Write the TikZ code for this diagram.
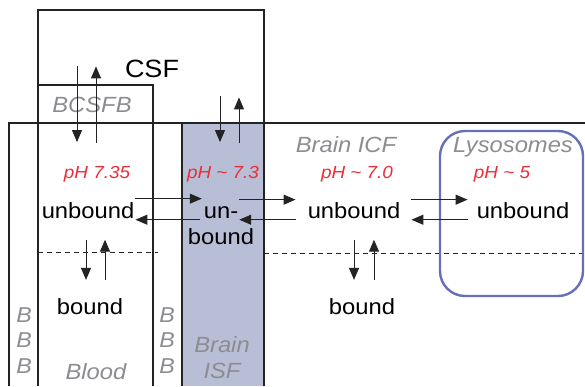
\documentclass[tikz,border=0pt]{standalone}
\usepackage{fontspec}
\setmainfont{Liberation Sans}[FakeStretch=1.08]
\usetikzlibrary{arrows.meta}
\definecolor{linedark}{RGB}{35,35,35}
\definecolor{compgray}{RGB}{140,140,145}
\definecolor{phred}{RGB}{235,45,55}
\definecolor{isffill}{RGB}{185,190,215}
\definecolor{lysoblue}{RGB}{100,112,185}
\tikzstyle{wall} = [line width=1.1pt, draw=linedark]
\tikzstyle{divider} = [line width=1pt, draw=linedark, dash pattern=on 5pt off 4pt]
\tikzstyle{lysobox} = [line width=2.4pt, draw=lysoblue, rounded corners=25pt]
\tikzstyle{title} = [inner sep=0pt, anchor=base, text=black, font=\fontsize{25}{30}\selectfont]
\tikzstyle{compart} = [inner sep=0pt, anchor=base, text=compgray, font=\fontsize{22}{26}\selectfont\itshape]
\tikzstyle{phval} = [inner sep=0pt, anchor=base, text=phred, font=\fontsize{17.5}{21}\selectfont\itshape]
\tikzstyle{species} = [inner sep=0pt, anchor=base, text=black, font=\fontsize{22}{26}\selectfont]
\tikzstyle{bbb} = [inner sep=0pt, anchor=north, align=center, text=compgray, font=\fontsize{21.5}{25.3}\selectfont\itshape]
\tikzstyle{arrow} = [line width=1pt, -{Triangle[length=12pt,width=10pt]}, draw=linedark]

\begin{document}
\begin{tikzpicture}[x=1pt,y=-1pt]
		\useasboundingbox (0,0) rectangle (585,386);
		% compartments
		\fill[isffill] (182,123) rectangle (264,386);
		\draw[wall] (9,386) |- (585,123);
		\draw[wall] (38,386) |- (264,10) -- (264,386);
		\draw[wall] (38,85) -| (153,386);
		\draw[wall] (182,123) -- (182,386);
		\draw[divider] (38,252) -- (158,252);
		\draw[divider] (264,253) -- (585,253);
		\draw[lysobox] (440,131) rectangle (583,296);
		% compartment names
		\node (csf) [title] at (152,77) {CSF};
		\node (bcsfb) [compart] at (92,112) {BCSFB};
		\node (icf) [compart] at (346,152) {Brain ICF};
		\node (lyso) [compart] at (513,152) {Lysosomes};
		\node (blood) [compart] at (96,379) {Blood};
		\node (isf) [compart, anchor=north, align=center] at (222,336) {Brain\\ISF};
		\node (bbbleft) [bbb] at (24,307.5) {B\\B\\B};
		\node (bbbright) [bbb] at (167,307.5) {B\\B\\B};
		% pH values
		\node (ph1) [phval] at (97,178) {pH 7.35};
		\node (ph2) [phval] at (223,178) {pH \textasciitilde{} 7.3};
		\node (ph3) [phval] at (357,178) {pH \textasciitilde{} 7.0};
		\node (ph4) [phval] at (502,178) {pH \textasciitilde{} 5};
		% drug species
		\node (ub1) [species] at (88,218.3) {unbound};
		\node (ub2) [species, anchor=north, align=center] at (221,206) {un-\\bound};
		\node (ub3) [species] at (354,218.3) {unbound};
		\node (ub4) [species] at (523,218.3) {unbound};
		\node (b1) [species] at (90,314) {bound};
		\node (b3) [species] at (362,314) {bound};
		% exchange with CSF
		\draw [arrow] ([xshift=-20pt,yshift=2pt]ph1.north |- csf.west) -- ([xshift=-20pt,yshift=23.5pt]ph1.north);
		\draw [arrow] ([xshift=-1pt,yshift=23pt]ph1.north) -- ([xshift=-1pt,yshift=2pt]ph1.north |- csf.west);
		\draw [arrow] ([xshift=-3pt]ph2.north |- bcsfb.north) -- ([xshift=-3pt,yshift=23.5pt]ph2.north);
		\draw [arrow] ([xshift=16pt,yshift=23pt]ph2.north) -- ([xshift=16pt,yshift=-1pt]ph2.north |- bcsfb.north);
		% blood - ISF - ICF - lysosomes
		\draw [arrow] ([xshift=1pt,yshift=3.5pt]ub1.north east) -- ([xshift=14pt,yshift=3.5pt]ub1.north east -| ub2.west);
		\draw [arrow] ([xshift=12pt,yshift=-1pt]ub1.south east -| ub2.west) -- ([xshift=1pt,yshift=-1pt]ub1.south east);
		\draw [arrow] ([xshift=-15pt,yshift=2.5pt]ub2.east |- ub3.north) -- ([xshift=-12pt,yshift=2.5pt]ub3.north west);
		\draw [arrow] ([xshift=-12pt,yshift=-1pt]ub3.south west) -- ([xshift=-15pt,yshift=-1pt]ub2.east |- ub3.south);
		\draw [arrow] ([xshift=11pt,yshift=2.5pt]ub3.north east) -- ([xshift=-9pt,yshift=2.5pt]ub4.west |- ub3.north);
		\draw [arrow] ([xshift=-9pt,yshift=-1pt]ub4.west |- ub3.south) -- ([xshift=11pt,yshift=-1pt]ub3.south east);
		% binding
		\draw [arrow] ([xshift=-4pt,yshift=-21pt]b1.north |- ub1.south) -- ([xshift=-4pt,yshift=18pt]b1.north);
		\draw [arrow] ([xshift=15pt,yshift=18pt]b1.north) -- ([xshift=15pt,yshift=-21pt]b1.north |- ub1.south);
		\draw [arrow] ([xshift=-8pt,yshift=-21pt]b3.north |- ub3.south) -- ([xshift=-8pt,yshift=18pt]b3.north);
		\draw [arrow] ([xshift=12pt,yshift=18pt]b3.north) -- ([xshift=12pt,yshift=-21pt]b3.north |- ub3.south);
	\end{tikzpicture}
\end{document}
